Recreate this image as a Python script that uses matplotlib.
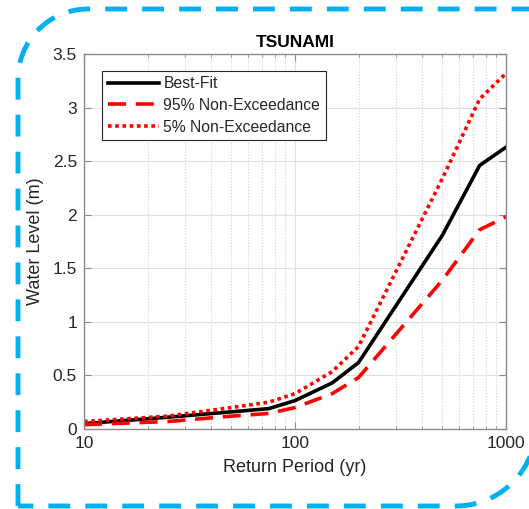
import matplotlib
matplotlib.use('Agg')
import numpy as np
import matplotlib.pyplot as plt
from matplotlib.ticker import LogLocator, FixedLocator, NullFormatter

plt.rcParams['font.family'] = ['Liberation Sans', 'DejaVu Sans']

# Return periods (yr) and water levels (m)
return_period = [10, 25, 50, 75, 100, 150, 200, 500, 750, 1000]
best_fit = [0.05, 0.11, 0.16, 0.19, 0.265, 0.43, 0.62, 1.81, 2.46, 2.63]
nonexc_95 = [0.04, 0.07, 0.12, 0.145, 0.20, 0.33, 0.48, 1.39, 1.86, 1.98]
nonexc_5 = [0.07, 0.12, 0.20, 0.25, 0.33, 0.535, 0.77, 2.34, 3.08, 3.32]

y_ticks = [0, 0.5, 1, 1.5, 2, 2.5, 3, 3.5]
y_tick_labels = ['0', '0.5', '1', '1.5', '2', '2.5', '3', '3.5']

text_col = '#262626'
spine_col = '#8c8c8c'


def diagonal_round_frame(x0, y0, x1, y1, r0, r1):
    # outline with rounded top-left and bottom-right corners (y grows downwards)
    # arcs as polylines so Agg clipping at the canvas edge stays clean
    t = np.linspace(0, np.pi / 2, 30)
    tl_x = x0 + r0 - r0 * np.cos(t)
    tl_y = y0 + r0 - r0 * np.sin(t)
    br_x = x1 - r1 + r1 * np.cos(t)
    br_y = y1 - r1 + r1 * np.sin(t)
    xs = np.concatenate([[x0], tl_x, [x1], br_x, [x0]])
    ys = np.concatenate([[y1], tl_y, [y0], br_y, [y1]])
    return xs, ys


fig = plt.figure(figsize=(5.29, 5.09), dpi=100)

# dashed frame around the whole figure (pixel coordinates)
bg = fig.add_axes([0, 0, 1, 1], zorder=0)
bg.set_xlim(0, 529)
bg.set_ylim(509, 0)
bg.axis('off')
fx, fy = diagonal_round_frame(18, 9, 536, 506, 70, 80)
bg.plot(fx, fy, color='#00B0F0', lw=3.5, linestyle=(0, (4.5, 3.1)),
        solid_capstyle='butt', dash_capstyle='butt', clip_on=False)

ax = fig.add_axes([84 / 529, 80 / 509, 422 / 529, 375 / 509], zorder=1)
ax.plot(return_period, best_fit, color='black', lw=2.6, label='Best-Fit')
ax.plot(return_period, nonexc_95, color='red', lw=2.6, linestyle=(0, (5.0, 2.7)),
        label='95% Non-Exceedance')
ax.plot(return_period, nonexc_5, color='red', lw=2.6, linestyle=(0, (1, 1)),
        label='5% Non-Exceedance')

ax.set_xscale('log')
ax.set_xlim(10, 1000)
ax.set_ylim(0, 3.5)
ax.set_xticks([10, 100, 1000])
ax.set_xticklabels(['10', '100', '1000'])
ax.xaxis.set_minor_locator(LogLocator(base=10, subs=range(2, 10)))
ax.xaxis.set_minor_formatter(NullFormatter())
ax.yaxis.set_major_locator(FixedLocator(y_ticks))
ax.set_yticklabels(y_tick_labels)

ax.grid(True, which='major', color='#e0e0e0', linestyle='-', linewidth=0.8)
ax.grid(True, which='minor', axis='x', color='#cfcfcf', linestyle=':', linewidth=0.8)
ax.set_axisbelow(True)

ax.tick_params(which='both', direction='in', top=True, right=True,
               colors=spine_col, labelcolor=text_col, labelsize=12.5)
ax.tick_params(which='major', length=5, pad=5)
ax.tick_params(which='minor', length=2.5)
for s in ax.spines.values():
    s.set_color(spine_col)
    s.set_linewidth(1.0)

ax.set_xlabel('Return Period (yr)', fontsize=13, color=text_col, labelpad=6)
ax.set_ylabel('Water Level (m)', fontsize=13, color=text_col, labelpad=6)
ax.set_title('TSUNAMI', fontsize=12.5, fontweight='bold', color='black', pad=5)

leg = ax.legend(loc='upper left', bbox_to_anchor=(0.043, 0.955), borderaxespad=0,
                fontsize=11.3, handlelength=3.3, handletextpad=0.25,
                borderpad=0.35, labelspacing=0.42, fancybox=False,
                framealpha=1, edgecolor='#262626')
leg.get_frame().set_linewidth(0.8)
for t in leg.get_texts():
    t.set_color(text_col)

fig.savefig('out.png', dpi=100)
